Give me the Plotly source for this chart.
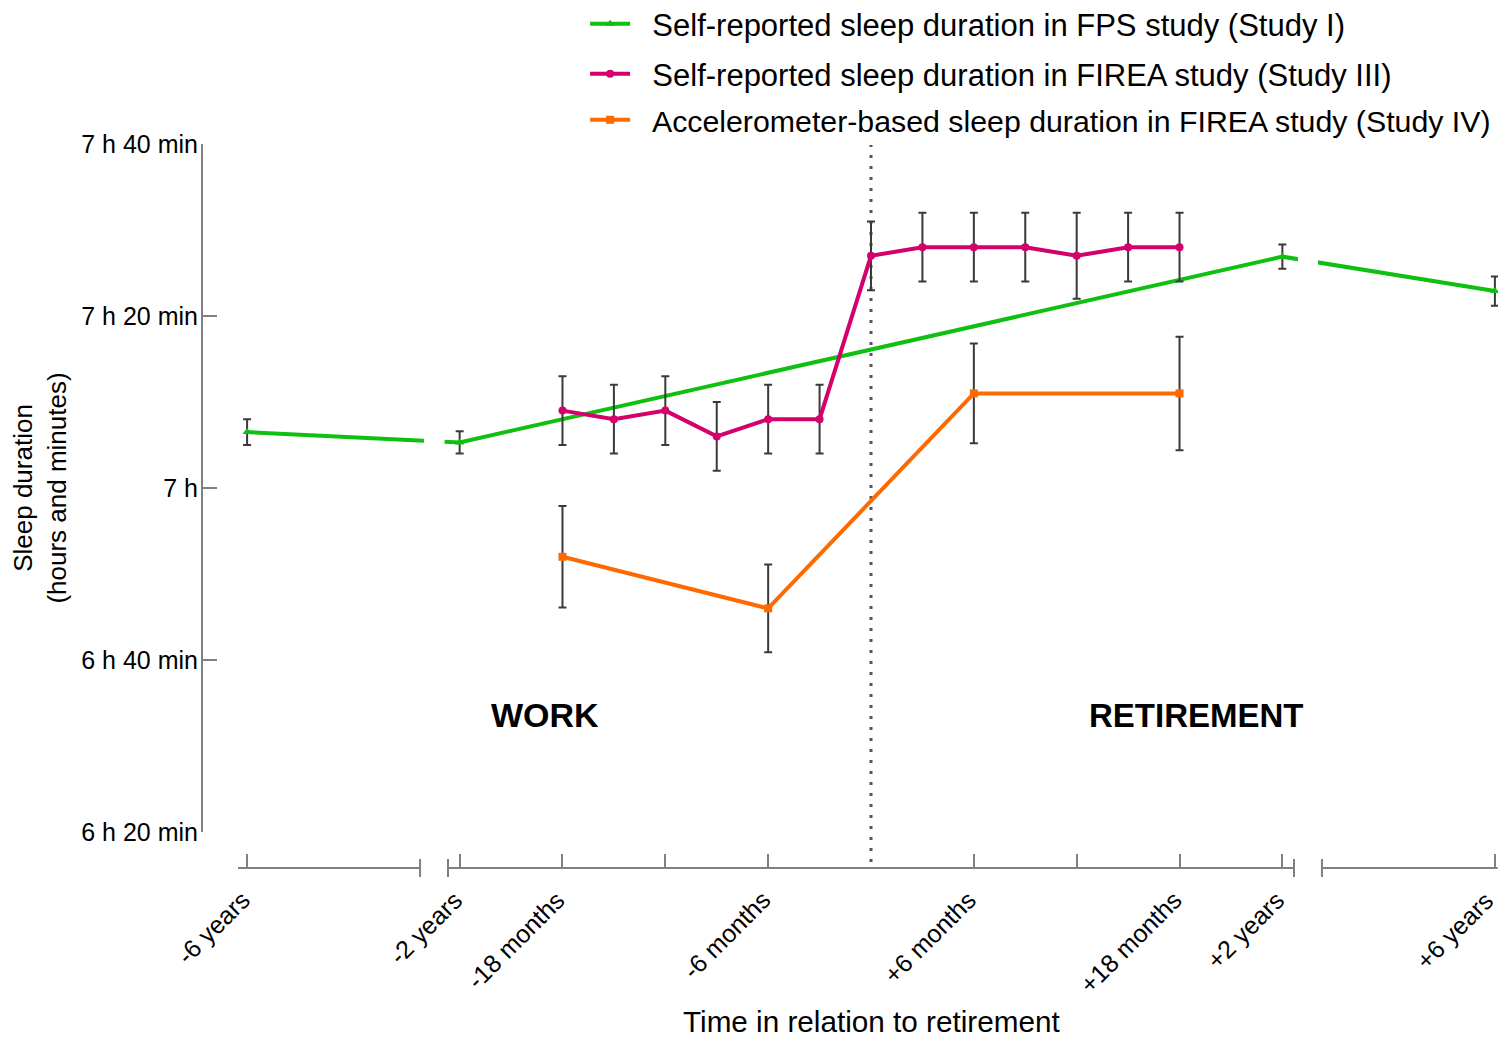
import plotly.graph_objects as go

# ---------------- data ----------------
# FPS study (Study I): self-reported sleep, time in years relative to retirement
fps_years = [-6, -2, 2, 6]
fps_mean = [426.5, 425.3, 446.9, 442.9]          # minutes
fps_err = [1.5, 1.3, 1.4, 1.7]

# FIREA study (Study III): self-reported sleep, months relative to retirement
sr_months = [-18, -15, -12, -9, -6, -3, 0, 3, 6, 9, 12, 15, 18]
sr_mean = [429, 428, 429, 426, 428, 428, 447, 448, 448, 448, 447, 448, 448]
sr_err = [4, 4, 4, 4, 4, 4, 4, 4, 4, 4, 5, 4, 4]

# FIREA study (Study IV): accelerometer-based sleep, months relative to retirement
acc_months = [-18, -6, 6, 18]
acc_mean = [412, 406, 431, 431]
acc_err = [5.9, 5.1, 5.8, 6.6]

# axis ticks (years, months) and labels
x_tick_times = [(-6, "y"), (-2, "y"), (-18, "m"), (-12, "m"), (-6, "m"),
                (6, "m"), (12, "m"), (18, "m"), (2, "y"), (6, "y")]
x_tick_labels = ["-6 years", "-2 years", "-18 months", "", "-6 months",
                 "+6 months", "", "+18 months", "+2 years", "+6 years"]
y_tick_vals = [380, 400, 420, 440, 460]
y_tick_labels = ["6 h 20 min", "6 h 40 min", "7 h", "7 h 20 min", "7 h 40 min"]

names = [
    "Self-reported sleep duration in FPS study (Study I)",
    "Self-reported sleep duration in FIREA study (Study III)",
    "Accelerometer-based sleep duration in FIREA study (Study IV)",
]

# ---------------- broken time scale ----------------
BEYOND_YEAR = 3.1   # axis units per year beyond +-2 years (compressed part)


def pos_years(y):
    if abs(y) <= 2:
        return 12.0 * y
    s = 1 if y > 0 else -1
    return s * (24 + (abs(y) - 2) * BEYOND_YEAR)


def pos(t):
    v, u = t
    return pos_years(v) if u == "y" else float(v)


FONT = "Liberation Sans, Arial, sans-serif"
GREEN = "#10c010"
MAGENTA = "#d4006c"
ORANGE = "#ff6a00"
ERR = "#3a3a3a"
AX = "#808080"

fig = go.Figure()

fig.add_trace(go.Scatter(
    x=[pos_years(v) for v in fps_years], y=fps_mean, mode="lines+markers",
    name="\u00a0\u00a0" + names[0], legend="legend",
    line=dict(color=GREEN, width=4), marker=dict(symbol="triangle-up", size=8, color=GREEN),
    error_y=dict(type="data", array=fps_err, color=ERR, thickness=2, width=4),
))
fig.add_trace(go.Scatter(
    x=sr_months, y=sr_mean, mode="lines+markers",
    name="\u00a0\u00a0" + names[1], legend="legend2",
    line=dict(color=MAGENTA, width=4), marker=dict(symbol="circle", size=8, color=MAGENTA),
    error_y=dict(type="data", array=sr_err, color=ERR, thickness=2, width=4),
))
fig.add_trace(go.Scatter(
    x=acc_months, y=acc_mean, mode="lines+markers",
    name="\u00a0\u00a0" + names[2], legend="legend3",
    line=dict(color=ORANGE, width=4), marker=dict(symbol="square", size=8, color=ORANGE),
    error_y=dict(type="data", array=acc_err, color=ERR, thickness=2, width=4),
))

# ---------------- layout geometry ----------------
# the page body adds an 8px margin on every side; size the figure so nothing overflows
OFF = 8
W, H = 1506 - 2 * OFF, 1045 - 2 * OFF
AXIS_PX = 868                      # page y of the x-axis line
ML, MR, MT = 203 - OFF, 0, 144 - OFF
MB = H - (AXIS_PX - OFF)
plot_h = H - MT - MB
plot_w = W - ML - MR
PX_PER_MONTH = 17.14
X0_PAGE = 871                      # page x of retirement (month 0)
x_lo = (203 - X0_PAGE) / PX_PER_MONTH
x_hi = (203 + plot_w - X0_PAGE) / PX_PER_MONTH
ydom0 = 36 / plot_h


def paper_y(px):
    # px given in page pixels
    return (H - MB - (px - OFF)) / plot_h


shapes = []
# broken x-axis line segments and break ticks
b_in, b_out = 24.68, 26.31
segments = [(-36.93, -b_out), (-b_in, b_in), (b_out, x_hi - 0.02)]
for a, b in segments:
    shapes.append(dict(type="line", xref="x", yref="paper", x0=a, x1=b, y0=0, y1=0,
                       line=dict(color=AX, width=2), layer="above"))
for xb in (-b_out, -b_in, b_in, b_out):
    shapes.append(dict(type="line", xref="x", yref="paper", x0=xb, x1=xb,
                       y0=paper_y(859), y1=paper_y(877),
                       line=dict(color=AX, width=2), layer="above"))
# gaps of the FPS line at the axis breaks
shapes.append(dict(type="rect", xref="x", yref="y", x0=-26.08, x1=-24.88, y0=418, y1=434,
                   fillcolor="white", line=dict(width=0), layer="above"))
shapes.append(dict(type="rect", xref="x", yref="y", x0=24.91, x1=26.08, y0=438, y1=454,
                   fillcolor="white", line=dict(width=0), layer="above"))
# retirement line
shapes.append(dict(type="line", xref="x", yref="paper", x0=0, x1=0,
                   y0=paper_y(862), y1=paper_y(145),
                   line=dict(color="#555555", width=3, dash="3px,8px"), layer="below"))

annotations = [
    dict(text="<b>WORK</b>", x=-19.0, y=393.6, xref="x", yref="y", showarrow=False,
         font=dict(family=FONT, size=34, color="black")),
    dict(text="<b>RETIREMENT</b>", x=19.0, y=393.6, xref="x", yref="y", showarrow=False,
         font=dict(family=FONT, size=33, color="black")),
    dict(text="Time in relation to retirement", x=0, y=paper_y(1021), xref="x", yref="paper",
         showarrow=False, yanchor="middle", xanchor="center",
         font=dict(family=FONT, size=29.7, color="black")),
]
# rotated x tick labels (placed as text so they sit exactly beside their ticks)
for i, (t, lab) in enumerate(zip(x_tick_times, x_tick_labels)):
    if not lab:
        continue
    shift = 10 if i < len(x_tick_times) - 1 else 7
    annotations.append(dict(
        text=lab, x=pos(t), xshift=shift, y=paper_y(883), xref="x", yref="paper",
        xanchor="right", yanchor="top", textangle=-45, showarrow=False,
        font=dict(family=FONT, size=25, color="black")))

legend_common = dict(xref="paper", yref="paper", x=382.1 / plot_w, xanchor="left",
                     yanchor="middle", bgcolor="rgba(0,0,0,0)",
                     font=dict(family=FONT, size=31, color="black"),
                     itemwidth=40, borderwidth=0)

fig.update_layout(
    width=W, height=H,
    margin=dict(l=ML, r=MR, t=MT, b=MB, autoexpand=False),
    paper_bgcolor="white", plot_bgcolor="white",
    font=dict(family=FONT, color="black"),
    showlegend=True,
    legend=dict(legend_common, y=paper_y(24)),
    legend2=dict(legend_common, y=paper_y(74)),
    legend3=dict(legend_common, y=paper_y(120),
                 font=dict(family=FONT, size=30.3, color="black")),
    shapes=shapes,
    annotations=annotations,
    xaxis=dict(
        anchor="free", position=0, domain=[0, 1],
        range=[x_lo, x_hi],
        tickvals=[pos(t) for t in x_tick_times], ticktext=x_tick_labels,
        ticks="inside", ticklen=14, tickwidth=2, tickcolor=AX,
        showticklabels=False,
        showline=False, showgrid=False, zeroline=False,
        automargin=False,
    ),
    yaxis=dict(
        domain=[ydom0, 1], range=[380, 460],
        tickvals=y_tick_vals, ticktext=y_tick_labels,
        ticks="inside", ticklen=14, tickwidth=2, tickcolor=AX,
        showline=True, linecolor=AX, linewidth=2,
        showgrid=False, zeroline=False,
        tickfont=dict(family=FONT, size=25, color="black"),
        ticklabelstandoff=-2,
        title=dict(text="Sleep duration<br>(hours and minutes)", standoff=10,
                   font=dict(family=FONT, size=26, color="black")),
        automargin=False,
    ),
)

fig.write_html("out.html")
